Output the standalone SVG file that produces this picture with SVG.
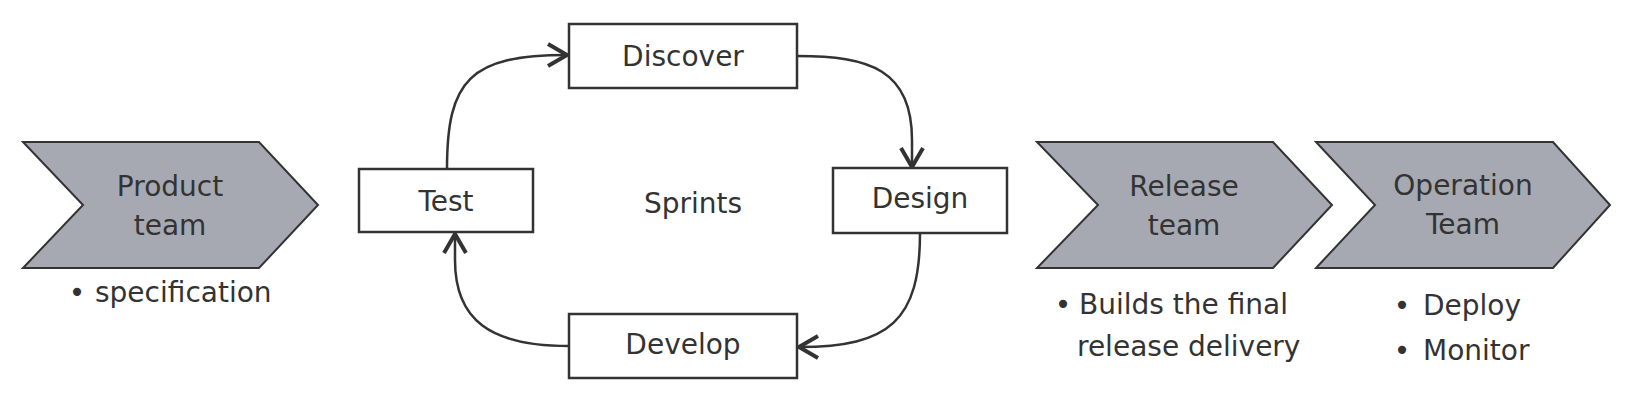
<svg xmlns="http://www.w3.org/2000/svg" width="1634" height="402" viewBox="0 0 1634 402">
<style>
text{font-family:"DejaVu Sans","Liberation Sans",sans-serif;font-size:28px;fill:#333333}
.c{text-anchor:middle}
.chev{fill:#a6a9b1;stroke:#333333;stroke-width:2}
.box{fill:#ffffff;stroke:#333333;stroke-width:2.5}
.edge{fill:none;stroke:#333333;stroke-width:2.5;marker-end:url(#arr)}
</style>
<defs>
<marker id="arr" markerUnits="userSpaceOnUse" markerWidth="30" markerHeight="30" viewBox="-24 -15 30 30" refX="0" refY="0" orient="auto">
<path d="M-19,-11 L0,0 L-19,11" fill="none" stroke="#333333" stroke-width="4" stroke-linejoin="miter"/>
</marker>
</defs>
<rect width="1634" height="402" fill="#ffffff"/>
<g id="product">
<polygon class="chev" points="23,142 259,142 318,205 259,268 23,268 83,205"/>
<text class="c" x="170" y="196">Product</text>
<text class="c" x="170" y="235">team</text>
<text class="c" x="77" y="302">•</text>
<text x="95" y="302">specification</text>
</g>
<g id="release">
<polygon class="chev" points="1037,142 1273,142 1332,205 1273,268 1037,268 1098,205"/>
<text class="c" x="1184" y="196">Release</text>
<text class="c" x="1184" y="235">team</text>
<text class="c" x="1063" y="314">•</text>
<text x="1079" y="314">Builds the final</text>
<text x="1077" y="356">release delivery</text>
</g>
<g id="operation">
<polygon class="chev" points="1316,142 1553,142 1610,205 1553,268 1316,268 1375,205"/>
<text class="c" x="1463" y="195">Operation</text>
<text class="c" x="1463" y="234">Team</text>
<text class="c" x="1402" y="315">•</text>
<text x="1423" y="315">Deploy</text>
<text class="c" x="1402" y="360">•</text>
<text x="1423" y="360">Monitor</text>
</g>
<g id="connectors">
<path class="edge" d="M447,169 C447,80 470,55 567,55"/>
<path class="edge" d="M797,56 C870,56 912,70 912,140 L912,167"/>
<path class="edge" d="M920,233 C920,320 890,347 799,347"/>
<path class="edge" d="M569,346 C490,346 455,320 455,260 L455,234"/>
</g>
<g id="discover">
<rect class="box" x="569" y="24" width="228" height="64"/>
<text class="c" x="683" y="66">Discover</text>
</g>
<g id="test">
<rect class="box" x="359" y="169" width="174" height="63"/>
<text class="c" x="446" y="211">Test</text>
</g>
<g id="design">
<rect class="box" x="833" y="168" width="174" height="65"/>
<text class="c" x="920" y="208">Design</text>
</g>
<g id="develop">
<rect class="box" x="569" y="314" width="228" height="64"/>
<text class="c" x="683" y="354">Develop</text>
</g>
<g id="sprints">
<text class="c" x="693" y="213">Sprints</text>
</g>
</svg>
